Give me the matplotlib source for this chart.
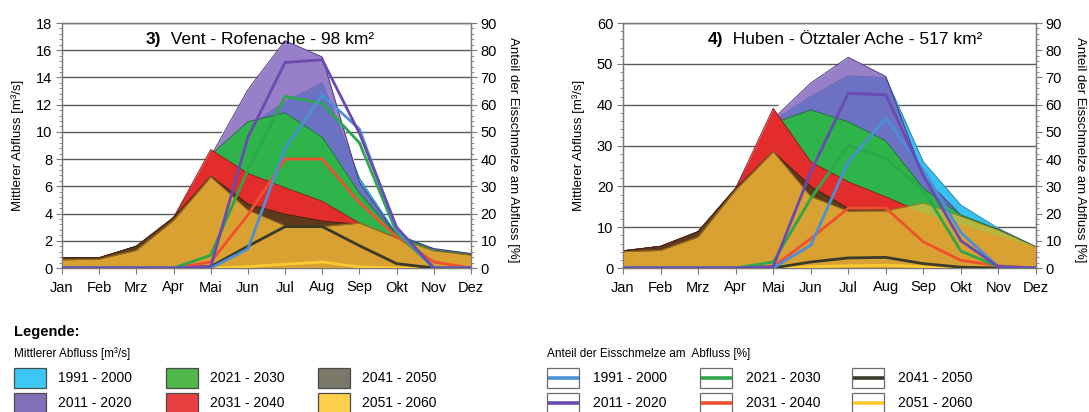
import matplotlib
matplotlib.use("Agg")
import matplotlib.pyplot as plt
import numpy as np
from matplotlib.patches import Rectangle
from matplotlib.lines import Line2D
from matplotlib.ticker import MultipleLocator

plt.rcParams['font.family'] = ['Liberation Sans', 'DejaVu Sans']

months = ["Jan", "Feb", "Mrz", "Apr", "Mai", "Jun", "Jul", "Aug", "Sep", "Okt", "Nov", "Dez"]
periods = ["1991 - 2000", "2011 - 2020", "2021 - 2030", "2031 - 2040", "2041 - 2050", "2051 - 2060"]

# ---- Vent - Rofenache: mean discharge [m3/s] ----
vent_1991 = [0.75, 0.75, 1.6, 3.7, 8.0, 10.4, 12.2, 13.6, 6.6, 2.5, 1.4, 1.05]
vent_2011 = [0.75, 0.75, 1.6, 3.7, 8.2, 13.1, 16.7, 15.5, 6.3, 2.4, 1.43, 1.06]
vent_2021 = [0.75, 0.75, 1.6, 3.7, 8.3, 10.75, 11.4, 9.6, 5.5, 2.4, 1.3, 1.0]
vent_2031 = [0.75, 0.75, 1.6, 3.7, 8.7, 6.95, 5.9, 4.9, 3.3, 2.2, 1.2, 0.95]
vent_2041 = [0.75, 0.75, 1.6, 3.7, 6.75, 4.7, 3.95, 3.45, 3.2, 2.1, 1.2, 0.95]
vent_2051 = [0.6, 0.65, 1.3, 3.5, 6.7, 4.25, 3.1, 3.05, 3.3, 2.2, 1.25, 0.95]
# ---- Vent: ice melt share [%] ----
vent_ice_1991 = [0, 0, 0, 0, 0, 7, 44, 63.5, 51, 14, 0, 0]
vent_ice_2011 = [0, 0, 0, 0, 0.5, 48, 75.5, 76.5, 49.5, 15, 0, 0]
vent_ice_2021 = [0, 0, 0, 0, 4.7, 36, 63, 60.5, 46, 13, 0, 0]
vent_ice_2031 = [0, 0, 0, 0, 2.2, 19.5, 40, 40, 24, 11.5, 2.2, 0]
vent_ice_2041 = [0, 0, 0, 0, 0.5, 8, 15.2, 15.2, 8.2, 1.6, 0, 0]
vent_ice_2051 = [0, 0, 0, 0, 0, 0.5, 1.4, 2.2, 0.4, 0, 0, 0]

# ---- Huben - Oetztaler Ache: mean discharge [m3/s] ----
hub_1991 = [4.2, 5.3, 8.9, 19.5, 36.0, 42.0, 47.1, 46.6, 26.0, 15.4, 9.7, 5.2]
hub_2011 = [4.2, 5.3, 8.9, 19.5, 36.5, 45.3, 51.6, 46.9, 22.3, 12.9, 9.4, 5.2]
hub_2021 = [4.2, 5.3, 8.9, 19.5, 35.5, 38.7, 35.8, 31.1, 19.5, 13.0, 9.4, 5.1]
hub_2031 = [4.2, 5.3, 8.9, 19.5, 39.1, 26.0, 21.1, 17.4, 13.5, 10.8, 8.0, 5.0]
hub_2041 = [4.2, 5.3, 8.9, 19.5, 28.5, 20.0, 14.6, 14.3, 13.0, 10.5, 7.8, 5.0]
hub_2051 = [4.0, 4.3, 7.6, 19.1, 28.5, 17.5, 13.9, 14.0, 15.9, 12.6, 9.2, 5.1]
# ---- Huben: ice melt share [%] ----
hub_ice_1991 = [0, 0, 0, 0, 0, 8.4, 39, 55, 36, 13, 0.4, 0]
hub_ice_2011 = [0, 0, 0, 0, 0.5, 35.3, 64.2, 63.6, 34, 10, 0.5, 0]
hub_ice_2021 = [0, 0, 0, 0, 2.2, 25.5, 45, 40.3, 28.6, 6.2, 0.5, 0]
hub_ice_2031 = [0, 0, 0, 0, 0.5, 10.8, 22, 22, 9.6, 2.8, 0.8, 0]
hub_ice_2041 = [0, 0, 0, 0, 0, 2.2, 3.7, 3.9, 1.6, 0.3, 0, 0]
hub_ice_2051 = [0, 0, 0, 0, 0, 0.5, 0.8, 1.0, 0.5, 0, 0, 0]

# colours
legend_fill = ["#3CC8F4", "#8070B8", "#52B84C", "#E84040", "#7A7868", "#FFD04C"]
chart_fill = ["#38C0F0", "#7A5CB8", "#2FB34B", "#E32D2D", "#5E3A1C", "#D9A032"]
edge_cols = ["#2A88B0", "#4A3A80", "#1E7A30", "#902020", "#3A2410", "#9A7020"]
line_cols = ["#4A90D9", "#6A4AB0", "#2AA84A", "#F05030", "#3A3A28", "#FFC830"]
olive = "#B5B840"

fig = plt.figure(figsize=(10.89, 4.12), dpi=100)
W, H = 1089, 412


def make_panel(rect, flows, ices, ymax, ymajor, yminor, title_num, title_txt, title_x):
    ax = fig.add_axes(rect)
    x = np.arange(12)
    ax.set_xlim(0, 11)
    ax.set_ylim(0, ymax)
    ax.yaxis.set_major_locator(MultipleLocator(ymajor))
    ax.yaxis.set_minor_locator(MultipleLocator(yminor))
    ax.set_xticks(x)
    ax.set_xticklabels(months)
    ax.grid(axis='y', which='major', color='#5a5a5a', lw=1.0, zorder=0)
    ax.set_axisbelow(True)
    for s in ax.spines.values():
        s.set_color('#7a7a7a')
        s.set_linewidth(1.0)
    ax.tick_params(axis='both', which='major', labelsize=10.5, length=4, color='#7a7a7a')
    ax.tick_params(axis='y', which='minor', length=2.5, color='#7a7a7a')
    ax.tick_params(axis='x', pad=5)
    ax.tick_params(axis='y', pad=3)

    f = [np.array(v, dtype=float) for v in flows]
    # white base to hide grid under the areas
    ax.fill_between(x, 0, np.max(f, axis=0), color='white', lw=0, zorder=1)
    for i in range(6):
        alpha = 0.78 if i == 1 else 1.0
        ax.fill_between(x, 0, f[i], color=chart_fill[i], alpha=alpha, lw=0, zorder=2 + i)
        ax.plot(x, f[i], color=edge_cols[i], lw=0.7, zorder=2.5 + i)
    # yellow above red/brown under green -> olive tint
    low = np.maximum(f[3], f[4])
    top = np.minimum(f[5], f[2])
    ax.fill_between(x, low, top, where=top > low, interpolate=True,
                    color=olive, lw=0, zorder=8.2)

    ax2 = ax.twinx()
    ax2.set_ylim(0, 90)
    ax2.yaxis.set_major_locator(MultipleLocator(10))
    ax2.yaxis.set_minor_locator(MultipleLocator(2))
    ax2.tick_params(axis='y', which='major', labelsize=10.5, length=4, color='#7a7a7a', pad=3)
    ax2.tick_params(axis='y', which='minor', length=2.5, color='#7a7a7a')
    for s in ax2.spines.values():
        s.set_color('#7a7a7a')
    order = [5, 4, 3, 2, 0, 1]
    for i in order:
        ax2.plot(x, ices[i], color=line_cols[i], lw=2.0, solid_joinstyle='miter', zorder=3)

    t = ax.text(title_x, 0.915, title_num, transform=ax.transAxes, fontsize=12.5,
                fontweight='bold', ha='left', va='baseline', zorder=20)
    ax.annotate("  " + title_txt, xy=(1, 0), xycoords=t, fontsize=12.5,
                ha='left', va='bottom', zorder=20)
    return ax, ax2


rect_y = 1 - 268 / H
rect_h = 245 / H
make_panel([62 / W, rect_y, 409 / W, rect_h],
           [vent_1991, vent_2011, vent_2021, vent_2031, vent_2041, vent_2051],
           [vent_ice_1991, vent_ice_2011, vent_ice_2021, vent_ice_2031, vent_ice_2041, vent_ice_2051],
           18, 2, 0.4, "3)", "Vent - Rofenache - 98 km²", 0.205)
make_panel([623 / W, rect_y, 413 / W, rect_h],
           [hub_1991, hub_2011, hub_2021, hub_2031, hub_2041, hub_2051],
           [hub_ice_1991, hub_ice_2011, hub_ice_2021, hub_ice_2031, hub_ice_2041, hub_ice_2051],
           60, 10, 2, "4)", "Huben - Ötztaler Ache - 517 km²", 0.205)

# axis labels
for xl in (18, 579):
    fig.text(xl / W, 1 - 145 / H, "Mittlerer Abfluss [m³/s]", rotation=90,
             ha='center', va='center', fontsize=9.5)
for xr in (513, 1080):
    fig.text(xr / W, 1 - 150 / H, "Anteil der Eisschmelze am Abfluss [%]", rotation=-90,
             ha='center', va='center', fontsize=9.5)

# legend
fig.text(14 / W, 1 - 332 / H, "Legende:", fontsize=10.5, fontweight='bold', ha='left', va='center')
fig.text(14 / W, 1 - 354 / H, "Mittlerer Abfluss [m³/s]", fontsize=8.5, ha='left', va='center')
fig.text(547 / W, 1 - 354 / H, "Anteil der Eisschmelze am  Abfluss [%]", fontsize=8.5,
         ha='left', va='center')

col_x_fill = [14, 166, 318]
col_x_line = [547, 700, 852]
row_y = [378, 403]
pos = [(0, 0), (0, 1), (1, 0), (1, 1), (2, 0), (2, 1)]
bw, bh = 32, 20
for i, (c, r) in enumerate(pos):
    x0 = col_x_fill[c]
    yc = row_y[r]
    fig.add_artist(Rectangle((x0 / W, 1 - (yc + bh / 2) / H), bw / W, bh / H,
                             transform=fig.transFigure, facecolor=legend_fill[i],
                             edgecolor='#4a4a4a', lw=0.9))
    fig.text((x0 + 44) / W, 1 - yc / H, periods[i], fontsize=10, ha='left', va='center')
    x1 = col_x_line[c]
    fig.add_artist(Rectangle((x1 / W, 1 - (yc + bh / 2) / H), bw / W, bh / H,
                             transform=fig.transFigure, facecolor='white',
                             edgecolor='#6a6a6a', lw=0.9))
    fig.add_artist(Line2D([(x1 + 0.5) / W, (x1 + bw - 0.5) / W], [1 - yc / H, 1 - yc / H],
                          transform=fig.transFigure, color=line_cols[i], lw=2.6,
                          solid_capstyle='butt'))
    fig.text((x1 + 46) / W, 1 - yc / H, periods[i], fontsize=10, ha='left', va='center')

fig.savefig("out.png", dpi=100)
